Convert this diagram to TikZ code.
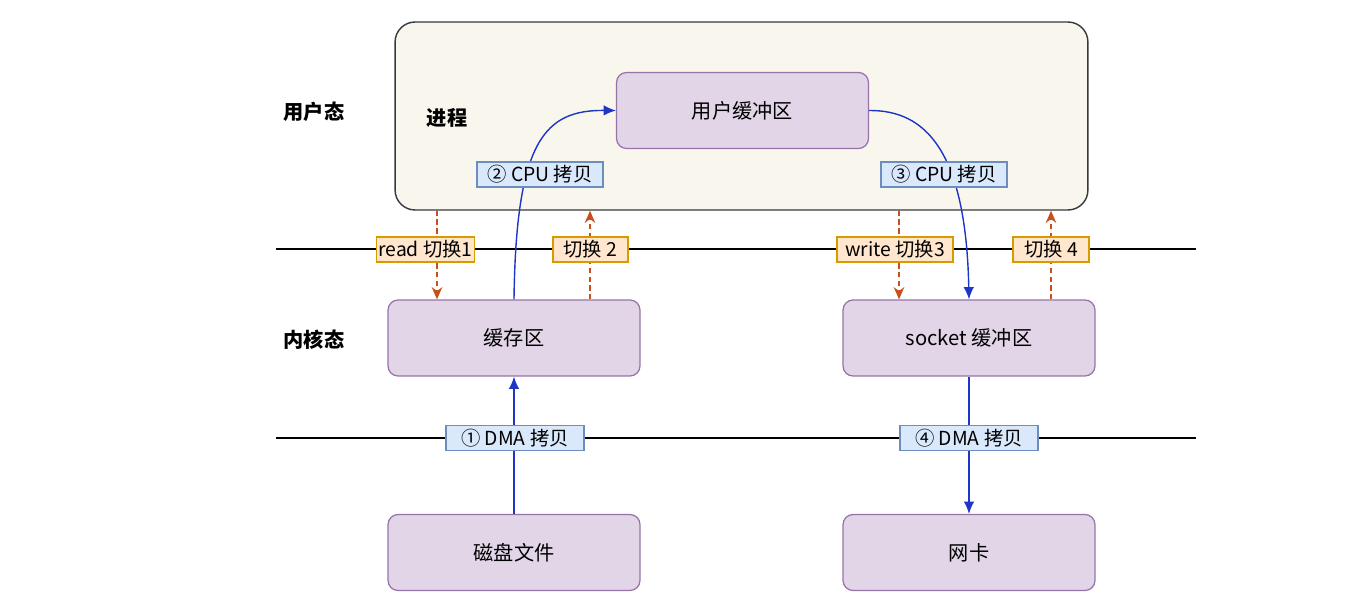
\documentclass[tikz,border=0pt]{standalone}
\usepackage{fontspec}
\setmainfont{Noto Sans CJK SC}
\usetikzlibrary{arrows.meta,calc}
\definecolor{procfill}{HTML}{F9F7ED}
\definecolor{procdraw}{HTML}{36393D}
\definecolor{purfill}{HTML}{E1D5E7}
\definecolor{purdraw}{HTML}{9673A6}
\definecolor{orfill}{HTML}{FFE6CC}
\definecolor{ordraw}{HTML}{D79B00}
\definecolor{bluefill}{HTML}{DAE8FC}
\definecolor{bluedraw}{HTML}{6C8EBF}
\definecolor{flow}{HTML}{1F35C8}
\definecolor{switch}{HTML}{C9501C}
\tikzset{
  procbox/.style={draw=procdraw, fill=procfill, line width=0.8pt, rounded corners=0.4cm, minimum width=13.86cm, minimum height=3.76cm},
  bufbox/.style={draw=purdraw, fill=purfill, line width=0.7pt, rounded corners=0.2cm, minimum width=5.04cm, minimum height=1.52cm, font=\fontsize{11.5}{13}\selectfont},
  swlabel/.style={draw=ordraw, fill=orfill, line width=0.6pt, minimum height=0.5cm, inner sep=1pt, font=\fontsize{11}{12}\selectfont},
  cplabel/.style={draw=bluedraw, fill=bluefill, line width=0.6pt, minimum height=0.5cm, inner sep=1pt, font=\fontsize{11}{12}\selectfont},
  sidelabel/.style={font=\fontsize{11.5}{13}\selectfont\bfseries},
  flowarrow/.style={draw=flow, line width=0.8pt, -{Latex[length=7pt,width=6pt]}},
  swarrow/.style={draw=switch, line width=0.8pt, dashed, dash pattern=on 3pt off 2pt, -{Stealth[length=7pt,width=6pt]}},
  sepline/.style={draw=black, line width=0.6pt}
}
\begin{document}
\begin{tikzpicture}[x=0.02cm,y=-0.02cm]
\useasboundingbox (0,0) rectangle (1369,602);
% separator lines
\coordinate (l1a) at (276,249);
\coordinate (l1b) at (1196,249);
\coordinate (l2a) at (276,438);
\coordinate (l2b) at (1196,438);
\draw[sepline] (l1a) -- (l1b);
\draw[sepline] (l2a) -- (l2b);
% side labels
\node[sidelabel] (user) at (314,112) {用户态};
\node[sidelabel] (kernel) at (314,340) {内核态};
% process
\node[procbox] (proc) at (741.5,116) {};
\node[sidelabel] (jc) at (447,118) {进程};
\node[bufbox] (ub) at (742.5,110.5) {用户缓冲区};
% kernel buffers
\node[bufbox] (cache) at (514,338) {缓存区};
\node[bufbox] (sock) at (969,338) {socket 缓冲区};
\node[bufbox] (disk) at (514,552.5) {磁盘文件};
\node[bufbox] (nic) at (969,552.5) {网卡};
% flows
\draw[flowarrow] (disk.north) -- (cache.north |- cache.south);
\draw[flowarrow] (cache.north) .. controls (516,140) and (545,110) .. (ub.west);
\draw[flowarrow] (ub.east) .. controls (925,110) and (966,150) .. (sock.north);
\draw[flowarrow] (sock.south) -- (nic.north);
% switch arrows
\coordinate (s1) at (437,0);
\coordinate (s2) at (590,0);
\coordinate (s3) at (899,0);
\coordinate (s4) at (1051,0);
\draw[swarrow] (s1 |- proc.south) -- (s1 |- cache.north);
\draw[swarrow] (s2 |- cache.north) -- (s2 |- proc.south);
\draw[swarrow] (s3 |- proc.south) -- (s3 |- sock.north);
\draw[swarrow] (s4 |- sock.north) -- (s4 |- proc.south);
% labels
\node[swlabel, minimum width=1.74cm] (r1) at (425.5,249.5) {read 切换1};
\node[swlabel, minimum width=1.50cm] (r2) at (590.5,249.5) {切换 2};
\node[swlabel, minimum width=2.32cm] (r3) at (895,249.5) {write 切换3};
\node[swlabel, minimum width=1.52cm] (r4) at (1051,249.5) {切换 4};
\node[cplabel, minimum width=2.52cm] (c2) at (540,174.5) {② CPU 拷贝};
\node[cplabel, minimum width=2.52cm] (c3) at (944,174.5) {③ CPU 拷贝};
\node[cplabel, minimum width=2.76cm] (d1) at (515,438) {① DMA 拷贝};
\node[cplabel, minimum width=2.76cm] (d4) at (969,438) {④ DMA 拷贝};
\end{tikzpicture}
\end{document}
